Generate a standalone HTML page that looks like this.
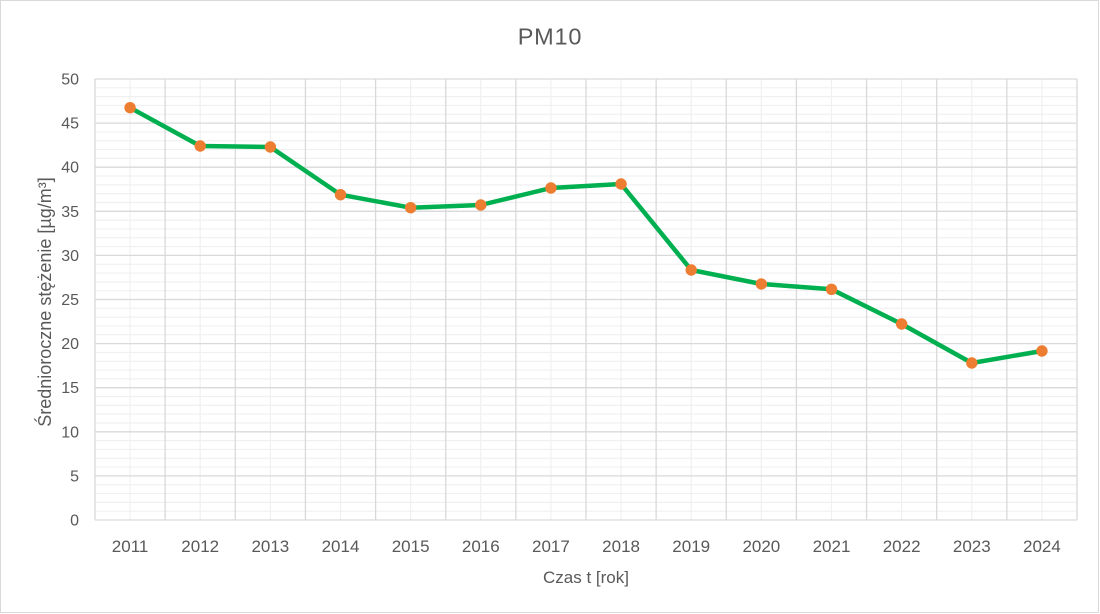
<!DOCTYPE html>
<html><head><meta charset="utf-8"><style>
html,body{margin:0;padding:0;background:#fff;}
svg{display:block;}
text{font-family:"Liberation Sans",sans-serif;fill:#595959;}
</style></head><body>
<svg width="1100" height="614" viewBox="0 0 1100 614" xmlns="http://www.w3.org/2000/svg">
<rect x="0.5" y="0.5" width="1098" height="612" fill="#fff" stroke="#d9d9d9" stroke-width="1"/>
<g id="minor" stroke="#f0f0f0" stroke-width="1.2"></g>
<g id="major" stroke="#d9d9d9" stroke-width="1.3"></g>
<text x="550" y="44.5" font-size="23.5" text-anchor="middle" letter-spacing="0.8">PM10</text>
<g id="ylab" font-size="16" text-anchor="end"></g>
<g id="xlab" font-size="17" text-anchor="middle"></g>
<text x="586" y="583" font-size="17" text-anchor="middle">Czas t [rok]</text>
<text transform="translate(51,302) rotate(-90)" font-size="18" text-anchor="middle">Średnioroczne stężenie [µg/m³]</text>
<polyline id="line" fill="none" stroke="#00b050" stroke-width="4.5" stroke-linejoin="round" stroke-linecap="round"/>
<g id="dots" fill="#ed7d31"></g>
</svg>
<script>
var ns="http://www.w3.org/2000/svg";
function el(t,a,p,txt){var e=document.createElementNS(ns,t);for(var k in a)e.setAttribute(k,a[k]);if(txt!==undefined)e.textContent=txt;document.getElementById(p).appendChild(e);return e;}
var L=95,R=1077,T=79,B=520,s=(B-T)/50,cw=(R-L)/14;
for(var v=0;v<=50;v++){var y=B-v*s;
 if(v%5==0){el("line",{x1:L,x2:R,y1:y,y2:y},"major");el("text",{x:79,y:y+5.5},"ylab",String(v));}
 else el("line",{x1:L,x2:R,y1:y,y2:y},"minor");}
for(var i=0;i<=14;i++){var x=L+i*cw;el("line",{x1:x,x2:x,y1:T,y2:B},"major");}
for(var i=0;i<14;i++){var x=L+cw/2+i*cw;el("line",{x1:x,x2:x,y1:T,y2:B},"minor");el("text",{x:x,y:552},"xlab",String(2011+i));}
var ys=[107.7,146,147,194.7,207.7,205,188,184,270,284,289.3,324,363,351];
var pts=[];
for(var i=0;i<14;i++){var x=L+cw/2+i*cw;pts.push(x+","+ys[i]);el("circle",{cx:x,cy:ys[i],r:5.7},"dots");}
document.getElementById("line").setAttribute("points",pts.join(" "));
</script>
</body></html>
